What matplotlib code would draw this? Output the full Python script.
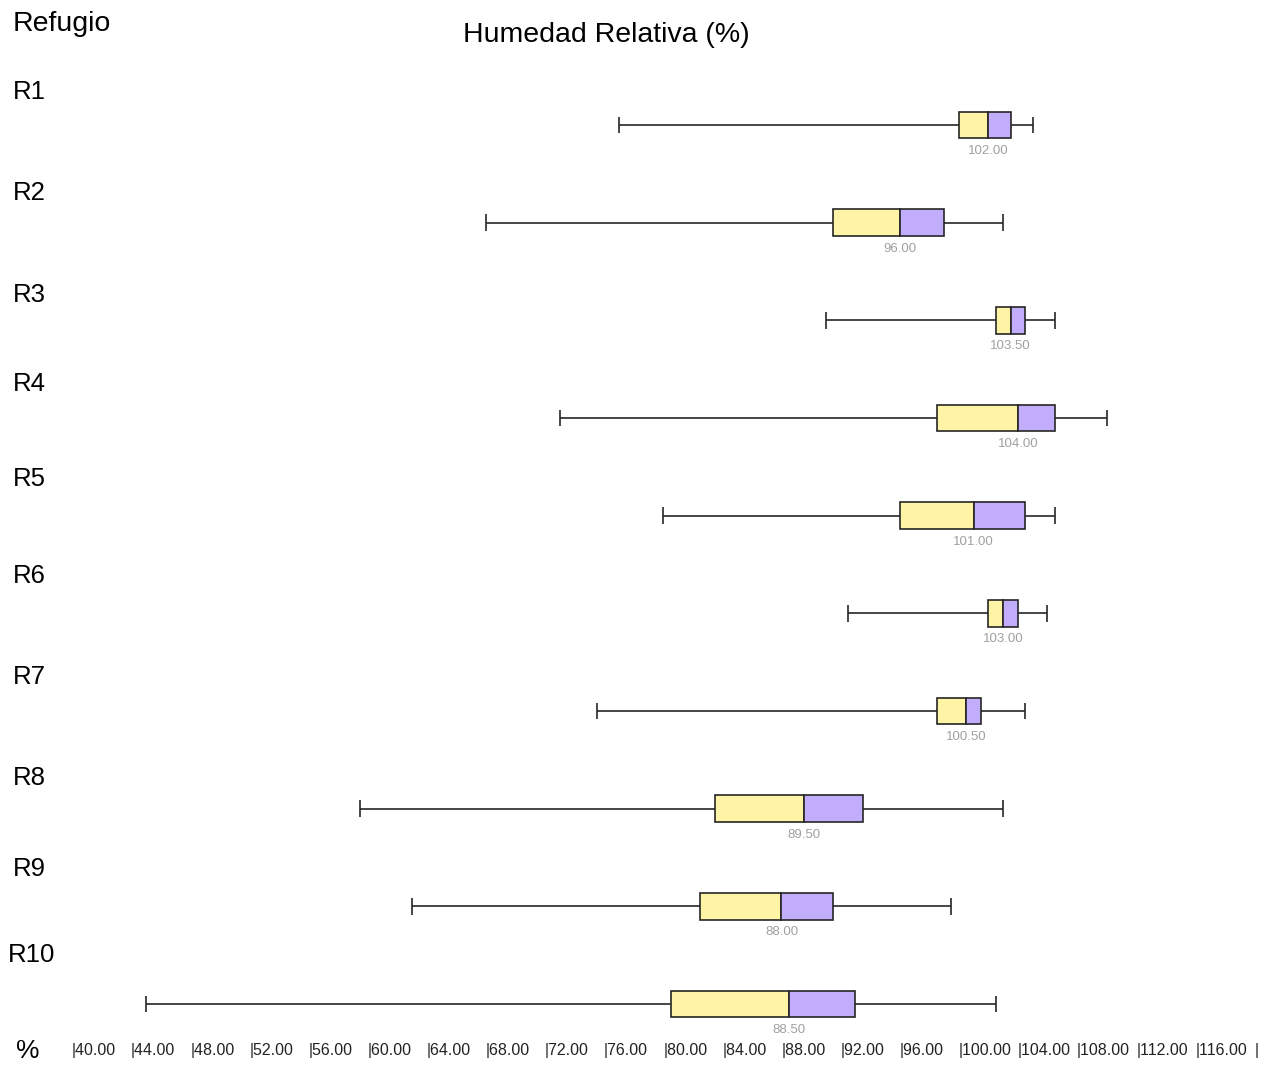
import matplotlib.pyplot as plt
import matplotlib.transforms as mtransforms

plt.rcParams['font.family'] = ['Liberation Sans', 'DejaVu Sans']

# Humedad relativa por refugio (boxplot values)
refugios = ['R1', 'R2', 'R3', 'R4', 'R5', 'R6', 'R7', 'R8', 'R9', 'R10']
minimos = [77, 68, 91, 73, 80, 92.5, 75.5, 59.5, 63, 45]
q1 = [100, 91.5, 102.5, 98.5, 96, 102, 98.5, 83.5, 82.5, 80.5]
medianas = [102, 96, 103.5, 104, 101, 103, 100.5, 89.5, 88, 88.5]
q3 = [103.5, 99, 104.5, 106.5, 104.5, 104, 101.5, 93.5, 91.5, 93]
maximos = [105, 103, 106.5, 110, 106.5, 106, 104.5, 103, 99.5, 102.5]
ticks = list(range(40, 120, 4))

W, H = 1269, 1065
fig = plt.figure(figsize=(W / 100, H / 100), dpi=100)
ax = fig.add_axes([0, 0, 1, 1])
ax.axis('off')

# pixel layout: value 40 at x=72, 14.78 px per unit; rows every 97.67 px starting at 125
px_per_unit = 14.78
ax.set_xlim(40 - 72 / px_per_unit, 40 + (W - 72) / px_per_unit)
row_px = 97.67
ax.set_ylim((H - 125) / row_px, -125 / row_px)

yellow = '#fff4a6'
purple = '#c2acfc'
edge = '#262626'
box_h = 0.275
cap_h = 0.17

for i in range(len(refugios)):
    ax.hlines(i, minimos[i], q1[i], color=edge, lw=1.2)
    ax.hlines(i, q3[i], maximos[i], color=edge, lw=1.2)
    ax.vlines([minimos[i], maximos[i]], i - cap_h / 2, i + cap_h / 2, color=edge, lw=1.2)
    ax.barh(i, medianas[i] - q1[i], left=q1[i], height=box_h, color=yellow, edgecolor=edge, lw=1.2)
    ax.barh(i, q3[i] - medianas[i], left=medianas[i], height=box_h, color=purple, edgecolor=edge, lw=1.2)
    ax.text(medianas[i], i + box_h / 2 + 0.13, f'{medianas[i]:.2f}', ha='center', va='center',
            fontsize=9.5, color='#a0a0a0')

# row labels
label_y = [92, 193, 295, 384, 479, 576, 677, 778, 869, 955]
label_x = [13, 13, 13, 13, 13, 13, 13, 13, 13, 8]
for lab, x, y in zip(refugios, label_x, label_y):
    fig.text(x / W, 1 - y / H, lab, fontsize=18.5, ha='left', va='center')

fig.text(13 / W, 1 - 24 / H, 'Refugio', fontsize=20.5, ha='left', va='center')
fig.text(606 / W, 1 - 35 / H, 'Humedad Relativa (%)', fontsize=20.5, ha='center', va='center')
fig.text(16 / W, 1 - 1051 / H, '%', fontsize=19, ha='left', va='center')

# x tick labels along the bottom
trans = mtransforms.blended_transform_factory(ax.transData, fig.transFigure)
for t in ticks:
    ax.text(t, 1 - 1050 / H, f'|{t:.2f}', transform=trans, fontsize=11.5, ha='left', va='center',
            color='#222222')
ax.text(120, 1 - 1050 / H, '|', transform=trans, fontsize=11.5, ha='left', va='center', color='#222222')

fig.savefig('out.png', dpi=100)
